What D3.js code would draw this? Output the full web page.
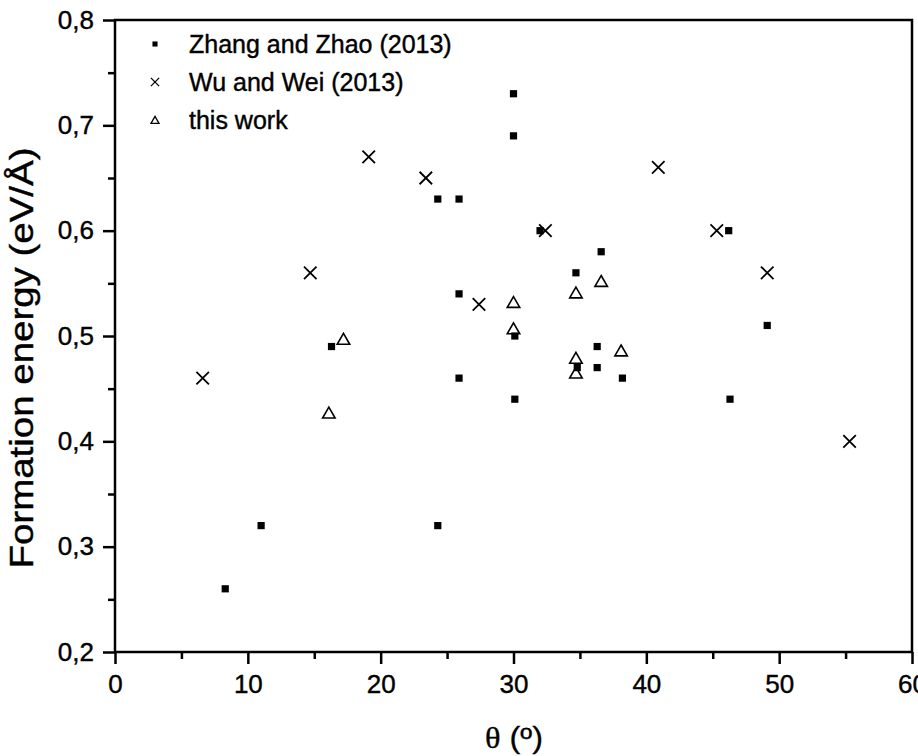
<!DOCTYPE html>
<html>
<head>
<meta charset="utf-8">
<script src="https://cdn.jsdelivr.net/npm/d3@7"></script>
<style>
  html, body { margin: 0; padding: 0; background: #fff; }
  svg { display: block; font-family: "Liberation Sans", Arial, sans-serif; }
</style>
</head>
<body>
<div id="chart"></div>
<script>
// Formation energy vs misorientation angle, three sources
var zhangTheta = [8.3, 11.0, 16.3, 24.3, 24.3, 25.9, 25.9, 25.9, 30.0, 30.0, 32.0,
                  30.1, 30.1, 34.7, 34.8, 36.3, 36.3, 36.6, 38.2, 46.2, 46.3, 49.1];
var zhangE     = [0.26, 0.32, 0.49, 0.63, 0.32, 0.63, 0.54, 0.46, 0.73, 0.69, 0.60,
                  0.50, 0.44, 0.56, 0.47, 0.49, 0.47, 0.58, 0.46, 0.60, 0.44, 0.51];
var wuTheta = [6.6, 14.7, 19.1, 23.4, 27.4, 32.4, 40.9, 45.3, 49.1, 55.3];
var wuE     = [0.46, 0.56, 0.67, 0.65, 0.53, 0.60, 0.66, 0.60, 0.56, 0.40];
var thisTheta = [16.1, 17.2, 30.0, 30.0, 34.7, 34.7, 34.7, 36.6, 38.1];
var thisE     = [0.427, 0.497, 0.532, 0.507, 0.541, 0.479, 0.465, 0.552, 0.486];
var seriesNames = ["Zhang and Zhao (2013)", "Wu and Wei (2013)", "this work"];
var xTicks = [0, 10, 20, 30, 40, 50, 60];
var yTicks = [0.2, 0.3, 0.4, 0.5, 0.6, 0.7, 0.8];

var W = 918, H = 756;
var L = 115, R = 912, T = 20, B = 652;

var svg = d3.select("#chart").append("svg")
  .attr("width", W).attr("height", H);

var x = d3.scaleLinear().domain([0, 60]).range([L, R]);
var y = d3.scaleLinear().domain([0.2, 0.8]).range([B, T]);
var comma = function (v) { return d3.format(".1f")(v).replace(".", ","); };

// minor ticks first, then major ticks with labels
svg.append("g").attr("transform", "translate(0," + B + ")")
  .call(d3.axisBottom(x).tickValues(d3.range(5, 60, 10)).tickSize(7).tickFormat(""))
  .call(function (g) { g.select(".domain").remove(); });
svg.append("g").attr("transform", "translate(" + L + ",0)")
  .call(d3.axisLeft(y).tickValues(d3.range(0.25, 0.8, 0.1)).tickSize(7).tickFormat(""))
  .call(function (g) { g.select(".domain").remove(); });

var gx = svg.append("g").attr("transform", "translate(0," + B + ")")
  .call(d3.axisBottom(x).tickValues(xTicks).tickSize(12).tickPadding(11).tickFormat(d3.format("d")));
var gy = svg.append("g").attr("transform", "translate(" + L + ",0)")
  .call(d3.axisLeft(y).tickValues(yTicks).tickSize(12).tickPadding(9).tickFormat(comma));

svg.selectAll(".tick line").attr("stroke", "#000").attr("stroke-width", 2.5);
svg.selectAll(".domain").remove();
svg.selectAll(".tick text").attr("fill", "#000").attr("font-size", 26)
  .attr("stroke", "#000").attr("stroke-width", 0.4)
  .attr("font-family", "Liberation Sans, Arial, sans-serif");

// frame
svg.append("rect").attr("x", L).attr("y", T)
  .attr("width", R - L).attr("height", B - T)
  .attr("fill", "none").attr("stroke", "#000").attr("stroke-width", 2.5);

// markers
var sq = d3.symbol().type(d3.symbolSquare).size(52);
var cross = d3.symbol().type(d3.symbolX).size(104);
var tri = d3.symbol().type(d3.symbolTriangle2).size(112);

var plot = svg.append("g");
plot.selectAll("path.zz").data(d3.range(zhangTheta.length)).join("path")
  .attr("class", "zz").attr("d", sq)
  .attr("transform", function (i) { return "translate(" + x(zhangTheta[i]) + "," + y(zhangE[i]) + ")"; })
  .attr("fill", "#000");
plot.selectAll("path.ww").data(d3.range(wuTheta.length)).join("path")
  .attr("class", "ww").attr("d", cross)
  .attr("transform", function (i) { return "translate(" + x(wuTheta[i]) + "," + y(wuE[i]) + ")"; })
  .attr("fill", "none").attr("stroke", "#000").attr("stroke-width", 1.8);
plot.selectAll("path.tw").data(d3.range(thisTheta.length)).join("path")
  .attr("class", "tw").attr("d", tri)
  .attr("transform", function (i) { return "translate(" + x(thisTheta[i]) + "," + (y(thisE[i]) + 1.5) + ")"; })
  .attr("fill", "none").attr("stroke", "#000").attr("stroke-width", 1.6);

// legend
var lg = svg.append("g").attr("transform", "translate(155,44)");
var legSyms = [
  { d: d3.symbol().type(d3.symbolSquare).size(26)(), fill: "#000", stroke: "none" },
  { d: d3.symbol().type(d3.symbolX).size(46)(), fill: "none", stroke: "#000" },
  { d: d3.symbol().type(d3.symbolTriangle2).size(46)(), fill: "none", stroke: "#000" }
];
seriesNames.forEach(function (name, i) {
  var row = lg.append("g").attr("transform", "translate(0," + i * 38 + ")");
  row.append("path").attr("d", legSyms[i].d)
    .attr("transform", i === 2 ? "translate(0,1)" : null)
    .attr("fill", legSyms[i].fill).attr("stroke", legSyms[i].stroke)
    .attr("stroke-width", 1.3);
  row.append("text").attr("x", 34).attr("y", 9)
    .attr("font-size", 25).attr("fill", "#000")
    .attr("stroke", "#000").attr("stroke-width", 0.4).text(name);
});

// axis titles
svg.append("text")
  .attr("transform", "translate(33,358) rotate(-90)")
  .attr("text-anchor", "middle").attr("font-size", 33).attr("fill", "#000")
  .attr("stroke", "#000").attr("stroke-width", 0.4)
  .attr("textLength", 421).attr("lengthAdjust", "spacingAndGlyphs")
  .text("Formation energy (eV/Å)");

var xt = svg.append("text").attr("x", 514).attr("y", 748)
  .attr("text-anchor", "middle").attr("font-size", 29).attr("fill", "#000")
  .attr("stroke", "#000").attr("stroke-width", 0.3)
  .attr("textLength", 58).attr("lengthAdjust", "spacingAndGlyphs");
xt.append("tspan").attr("font-family", "Liberation Serif, Times New Roman, serif").text("θ");
xt.append("tspan").text(" (º)");
</script>
</body>
</html>
